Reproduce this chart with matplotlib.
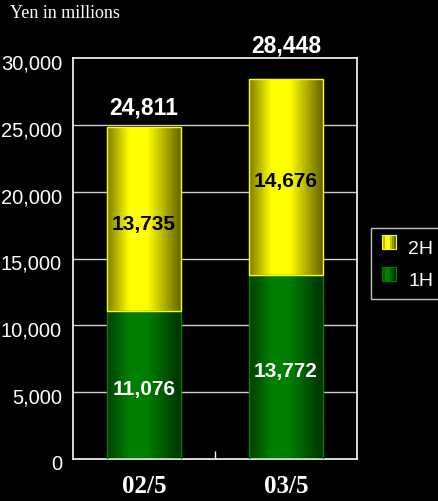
import numpy as np
import matplotlib
matplotlib.use("Agg")
import matplotlib.pyplot as plt
from matplotlib.patches import Rectangle
from matplotlib.legend_handler import HandlerBase
from matplotlib.transforms import offset_copy, blended_transform_factory

# Data
periods = ["02/5", "03/5"]
first_half = [11076, 13772]
second_half = [13735, 14676]
series_names = ["1H", "2H"]
y_ticks = [0, 5000, 10000, 15000, 20000, 25000, 30000]

# Vertical gap (pixels) between each bar top and its total label
total_label_gap = [9, 22]

SANS = "Liberation Sans"
SERIF = "Liberation Serif"

# Cylinder-like horizontal shading profile
shade_pos = [0.0, 0.3, 0.55, 1.0]
shade_val = [0.5, 1.0, 1.0, 0.4]

def shade_strip(base_rgb, n=64):
    t = np.linspace(0, 1, n)
    k = np.interp(t, shade_pos, shade_val)
    rgb = np.array(base_rgb)[None, :] * k[:, None]
    return rgb[None, :, :]

YELLOW = (1.0, 1.0, 0.0)
GREEN = (0.0, 0.5, 0.0)

fig = plt.figure(figsize=(4.39, 5.02), dpi=100, facecolor="black")
ax = fig.add_axes([73 / 439, 42 / 502, 284 / 439, 401 / 502], facecolor="black")

x = np.arange(len(periods))
width = 0.515
bars_1h = ax.bar(x, first_half, width, color="none", edgecolor="#008000", linewidth=1, zorder=3)
bars_2h = ax.bar(x, second_half, width, bottom=first_half, color="none",
                 edgecolor="#FFFF00", linewidth=1, zorder=3)

for container, base in ((bars_1h, GREEN), (bars_2h, YELLOW)):
    for rect in container:
        x0, y0 = rect.get_x(), rect.get_y()
        w, h = rect.get_width(), rect.get_height()
        im = ax.imshow(shade_strip(base), extent=[x0, x0 + w, y0, y0 + h],
                       aspect="auto", interpolation="bilinear", zorder=2)
        im.set_clip_path(rect)

ax.set_xlim(-0.5, len(periods) - 0.5)
ax.set_ylim(0, 30000)

# Grid and frame
for yv in y_ticks[1:-1]:
    ax.axhline(yv, color="#d0d0d0", linewidth=1, zorder=1)
for sp in ax.spines.values():
    sp.set_color("white")
    sp.set_linewidth(1.2)

# Y tick labels, sitting slightly below their gridlines
ax.set_yticks(y_ticks)
ax.set_yticklabels([])
ax.tick_params(axis="y", length=0)
ylab_tr = offset_copy(blended_transform_factory(ax.transAxes, ax.transData),
                      fig=fig, x=-11, y=-5, units="dots")
for v in y_ticks:
    ax.text(0, v, f"{v:,}", transform=ylab_tr, ha="right", va="center",
            color="white", fontsize=14.5, family=SANS, clip_on=False)

ax.set_xticks(x)
ax.set_xticklabels(periods)
ax.set_xticks([0.5], minor=True)
ax.tick_params(axis="x", which="major", length=0, pad=11, labelsize=18, labelcolor="white")
ax.tick_params(axis="x", which="minor", direction="in", length=6, color="white", width=1)
for lab in ax.get_xticklabels():
    lab.set_family(SERIF)
    lab.set_fontweight("bold")

# Value labels
down = offset_copy(ax.transData, fig=fig, x=0, y=-4, units="dots")
for i in x:
    ax.text(i, first_half[i] / 2, f"{first_half[i]:,}", ha="center", va="center",
            color="white", fontsize=15, fontweight="bold", family=SANS,
            transform=down, zorder=5)
    ax.text(i, first_half[i] + second_half[i] / 2, f"{second_half[i]:,}", ha="center",
            va="center", color="black", fontsize=15, fontweight="bold", family=SANS,
            transform=down, zorder=5)
    total = first_half[i] + second_half[i]
    ax.annotate(f"{total:,}", (i, total), xytext=(0, total_label_gap[i] * 0.72),
                textcoords="offset points", ha="center", va="bottom", color="white",
                fontsize=16.5, fontweight="bold", family=SANS, zorder=5,
                annotation_clip=False)

fig.text(10 / 439, 1 - 14 / 502, "Yen in millions", color="white", fontsize=13,
         family=SERIF, va="center", ha="left")


class ShadedHandler(HandlerBase):
    """Legend key drawn as a small shaded block, raised a little above the text centre."""

    def __init__(self, base, edge, lift=3.0):
        super().__init__()
        self.base = base
        self.edge = edge
        self.lift = lift

    def create_artists(self, legend, orig_handle, xdescent, ydescent, width, height,
                       fontsize, trans):
        strip = shade_strip(self.base, n=8)[0]
        n = len(strip)
        y0 = -ydescent + self.lift
        artists = []
        for j, c in enumerate(strip):
            r = Rectangle((-xdescent + j * width / n, y0), width / n, height,
                          facecolor=c, edgecolor="none", transform=trans)
            artists.append(r)
        artists.append(Rectangle((-xdescent, y0), width, height, facecolor="none",
                                 edgecolor=self.edge, linewidth=0.8, transform=trans))
        return artists


h2 = Rectangle((0, 0), 1, 1)
h1 = Rectangle((0, 0), 1, 1)
leg = fig.legend([h2, h1], [series_names[1], series_names[0]],
                 loc="upper left", bbox_to_anchor=(371 / 439, 1 - 229 / 502),
                 bbox_transform=fig.transFigure, borderaxespad=0,
                 handler_map={h2: ShadedHandler(YELLOW, "#FFFF00"),
                              h1: ShadedHandler(GREEN, "#008000")},
                 prop={"family": SANS, "size": 14}, labelcolor="white",
                 facecolor="black", edgecolor="#c0c0c0", framealpha=1, fancybox=False,
                 handlelength=0.72, handleheight=0.77, handletextpad=0.65,
                 labelspacing=0.72, borderpad=0.55)
leg.get_frame().set_linewidth(1)

fig.savefig("out.png", dpi=100, facecolor="black")
